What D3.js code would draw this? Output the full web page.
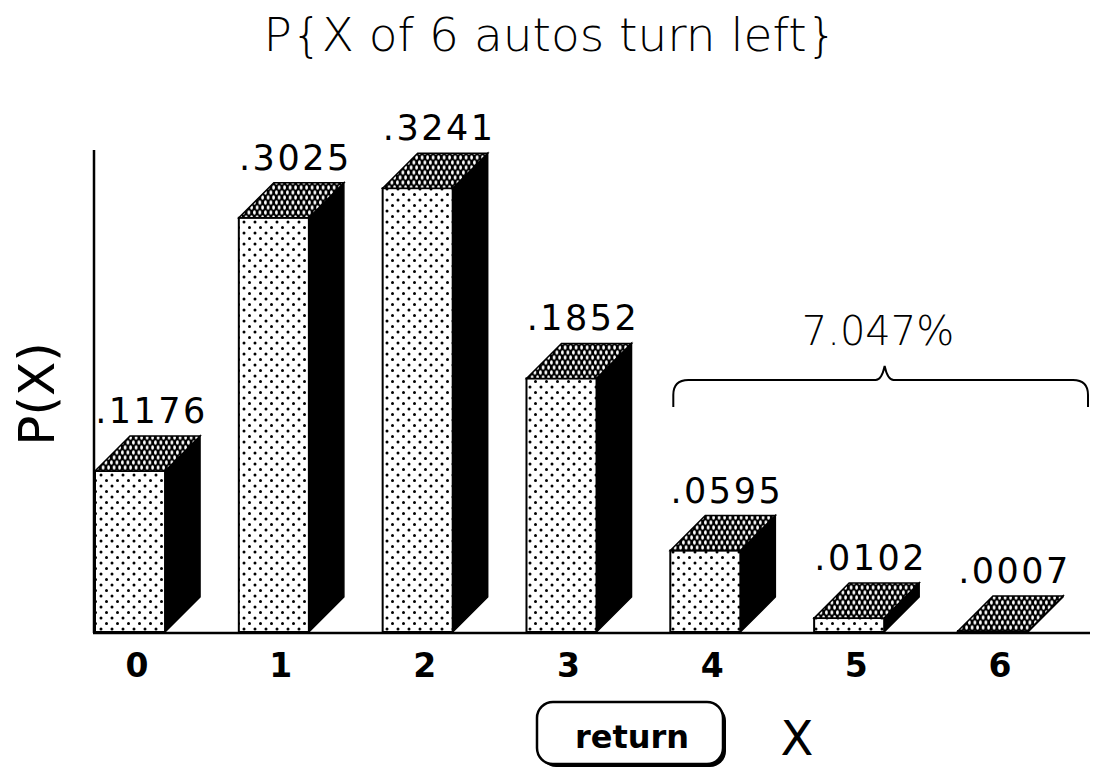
<!DOCTYPE html>
<html>
<head>
<meta charset="utf-8">
<script src="https://cdn.jsdelivr.net/npm/d3@7"></script>
<style>
  html, body { margin: 0; padding: 0; background: #fff; }
  svg { display: block; }
  .thin { font-family: "DejaVu Sans", sans-serif; font-weight: 200; }
  .val { font-family: "DejaVu Sans", sans-serif; font-size: 35px; letter-spacing: 2.5px; }
  .tick { font-family: "DejaVu Sans", sans-serif; font-weight: bold; font-size: 33px; }
</style>
</head>
<body>
<svg id="chart" width="1098" height="771"></svg>
<script>
// Binomial probabilities: X of 6 autos turn left
const categories = ["0", "1", "2", "3", "4", "5", "6"];
const probabilities = [0.1176, 0.3025, 0.3241, 0.1852, 0.0595, 0.0102, 0.0007];
const valueLabels = [".1176", ".3025", ".3241", ".1852", ".0595", ".0102", ".0007"];
const bracedCategories = ["4", "6"];
const bracedLabel = "7.047%";
const titleText = "P{X of 6 autos turn left}";

const svg = d3.select("#chart");

const x = d3.scaleBand()
  .domain(categories)
  .range([95, 1028])
  .paddingInner(0.513)
  .paddingOuter(0)
  .align(0);

const y = d3.scaleLinear()
  .domain([0, 0.352])
  .range([632, 150]);

const bw = x.bandwidth();
const dx = 35, dy = 35;   // oblique depth of the 3D blocks

// fill patterns
const defs = svg.append("defs");
const dots = defs.append("pattern")
  .attr("id", "dots").attr("patternUnits", "userSpaceOnUse")
  .attr("width", 11).attr("height", 11);
dots.append("rect").attr("width", 11).attr("height", 11).attr("fill", "#fff");
dots.append("circle").attr("cx", 2).attr("cy", 2).attr("r", 1.5).attr("fill", "#000");
dots.append("circle").attr("cx", 7.5).attr("cy", 7.5).attr("r", 1.5).attr("fill", "#000");

const hatch = defs.append("pattern")
  .attr("id", "hatch").attr("patternUnits", "userSpaceOnUse")
  .attr("width", 5.5).attr("height", 10);
hatch.append("rect").attr("width", 5.5).attr("height", 10).attr("fill", "#000");
hatch.append("ellipse").attr("cx", 1.4).attr("cy", 2.5).attr("rx", 1.35).attr("ry", 2.2).attr("fill", "#fff");
hatch.append("ellipse").attr("cx", 4.1).attr("cy", 7.5).attr("rx", 1.35).attr("ry", 2.2).attr("fill", "#fff");

// title
svg.append("text")
  .attr("class", "thin")
  .attr("x", 550).attr("y", 51)
  .attr("text-anchor", "middle")
  .attr("font-size", 47)
  .text(titleText);

// vertical axis line
const base = y(0);
svg.append("line")
  .attr("x1", 94).attr("x2", 94)
  .attr("y1", y.range()[1]).attr("y2", base + 1)
  .attr("stroke", "#000").attr("stroke-width", 2.5);

// bars
const bars = svg.append("g").selectAll("g.bar")
  .data(categories.map((c, i) => ({ c, v: probabilities[i], label: valueLabels[i] })))
  .join("g").attr("class", "bar");

// side face
bars.append("path")
  .attr("d", d => {
    const x1 = x(d.c) + bw, yt = y(d.v);
    return `M${x1},${yt}L${x1 + dx},${yt - dy}L${x1 + dx},${base - dy}L${x1},${base}Z`;
  })
  .attr("fill", "#000").attr("stroke", "#000").attr("stroke-width", 1.5);

// front face
bars.append("rect")
  .attr("x", d => x(d.c))
  .attr("y", d => y(d.v))
  .attr("width", bw)
  .attr("height", d => base - y(d.v))
  .attr("fill", "url(#dots)")
  .attr("stroke", "#000").attr("stroke-width", 2);

// top face
bars.append("path")
  .attr("d", d => {
    const x0 = x(d.c), x1 = x0 + bw, yt = y(d.v);
    return `M${x0},${yt}L${x1},${yt}L${x1 + dx},${yt - dy}L${x0 + dx},${yt - dy}Z`;
  })
  .attr("fill", "url(#hatch)")
  .attr("stroke", "#000").attr("stroke-width", 1.5);

// value labels
bars.append("text")
  .attr("class", "val")
  .attr("x", d => x(d.c) + (bw + dx) / 2 + 4)
  .attr("y", d => y(d.v) - dy - 13)
  .attr("text-anchor", "middle")
  .text(d => d.label);

// baseline
svg.append("line")
  .attr("x1", 93).attr("x2", 1090)
  .attr("y1", base + 1).attr("y2", base + 1)
  .attr("stroke", "#000").attr("stroke-width", 2.5);

// category tick labels
svg.append("g").selectAll("text")
  .data(categories)
  .join("text")
  .attr("class", "tick")
  .attr("x", c => x(c) + bw / 2 + 7)
  .attr("y", 677)
  .attr("text-anchor", "middle")
  .text(c => c);

// axis titles
svg.append("text")
  .attr("transform", "translate(54,394) rotate(-90)")
  .attr("text-anchor", "middle")
  .attr("font-family", "DejaVu Sans, sans-serif")
  .attr("font-size", 50)
  .text("P(X)");

svg.append("text")
  .attr("x", 797).attr("y", 755)
  .attr("text-anchor", "middle")
  .attr("font-family", "DejaVu Sans, sans-serif")
  .attr("font-size", 48)
  .text("X");

// brace over the upper tail
const bx0 = x(bracedCategories[0]) + 3;
const bx1 = x(bracedCategories[1]) + bw + dx + 25;
const bmid = (bx0 + bx1) / 2 + 4;
const byTop = 380, byBot = 407, bPeak = 366, r = 15;
const brace = d3.path();
brace.moveTo(bx0, byBot);
brace.lineTo(bx0, byTop + r);
brace.quadraticCurveTo(bx0, byTop, bx0 + r, byTop);
brace.lineTo(bmid - 9, byTop);
brace.quadraticCurveTo(bmid - 3, byTop, bmid, bPeak);
brace.quadraticCurveTo(bmid + 3, byTop, bmid + 9, byTop);
brace.lineTo(bx1 - r, byTop);
brace.quadraticCurveTo(bx1, byTop, bx1, byTop + r);
brace.lineTo(bx1, byBot);
svg.append("path")
  .attr("d", brace.toString())
  .attr("fill", "none").attr("stroke", "#000").attr("stroke-width", 2);

svg.append("text")
  .attr("class", "thin")
  .attr("x", 878).attr("y", 345)
  .attr("text-anchor", "middle")
  .attr("font-size", 40)
  .text(bracedLabel);

// return button
const btn = svg.append("g");
btn.append("rect")
  .attr("x", 540).attr("y", 705).attr("width", 186).attr("height", 62)
  .attr("rx", 16).attr("fill", "#000");
btn.append("rect")
  .attr("x", 537).attr("y", 702).attr("width", 186).attr("height", 62)
  .attr("rx", 16).attr("fill", "#fff")
  .attr("stroke", "#000").attr("stroke-width", 2.5);
btn.append("text")
  .attr("x", 632).attr("y", 748)
  .attr("text-anchor", "middle")
  .attr("font-family", "DejaVu Sans, sans-serif")
  .attr("font-weight", "bold")
  .attr("font-size", 32)
  .text("return");
</script>
</body>
</html>
